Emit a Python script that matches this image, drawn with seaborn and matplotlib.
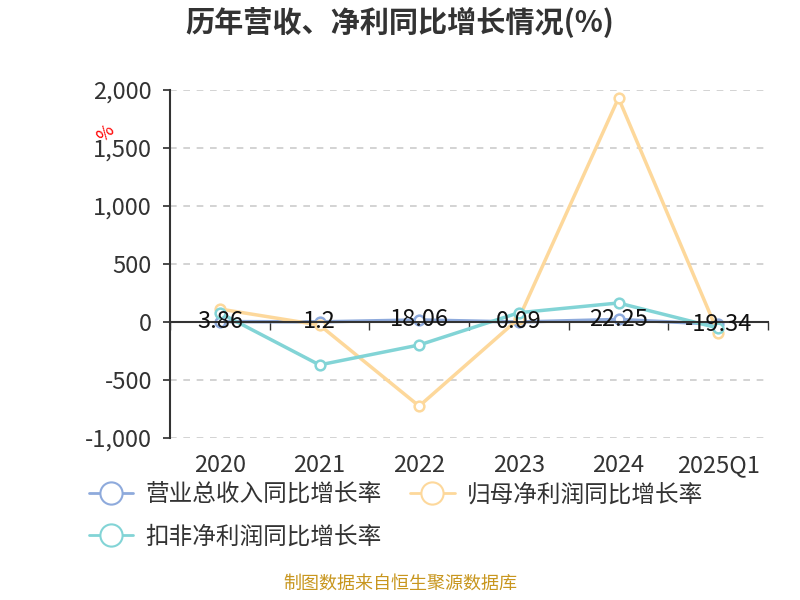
import matplotlib
matplotlib.use('Agg')
import pandas as pd
import matplotlib.pyplot as plt
import seaborn as sns
from matplotlib.lines import Line2D

years = ['2020', '2021', '2022', '2023', '2024', '2025Q1']
revenue = [3.86, 1.2, 18.06, 0.09, 22.25, -19.34]
net_profit = [112, -26, -725, 30, 1931, -95]
deducted = [78, -370, -198, 80, 164, -52]

names = ['营业总收入同比增长率', '归母净利润同比增长率', '扣非净利润同比增长率']
colors = ['#8eaadc', '#fdd89b', '#82d4d6']

sns.set_theme(style='white')
plt.rcParams['font.family'] = ['Noto Sans CJK SC', 'DejaVu Sans']

df = pd.DataFrame({
    'year': years * 3,
    'value': revenue + net_profit + deducted,
    'series': [names[0]] * 6 + [names[1]] * 6 + [names[2]] * 6,
})

fig = plt.figure(figsize=(8, 6), dpi=100)
ax = fig.add_axes([0.2125, 0.27, 0.7475, 0.58])

sns.lineplot(data=df, x='year', y='value', hue='series', hue_order=names,
             palette=colors, marker='o', markersize=7, linewidth=2.5,
             sort=False, legend=False, ax=ax)
for line, c in zip(ax.get_lines(), colors):
    line.set_markerfacecolor('white')
    line.set_markeredgecolor(c)
    line.set_markeredgewidth(1.8)

ax.set_xlim(-0.5, 5.5)
ax.set_ylim(-1000, 2000)
ax.set_yticks([-1000, -500, 0, 500, 1000, 1500, 2000])
ax.set_yticklabels(['-1,000', '-500', '0', '500', '1,000', '1,500', '2,000'])
ax.yaxis.grid(True, linestyle=(0, (4, 4)), color='#cccccc', linewidth=1.2)
ax.set_axisbelow(True)
for s in ['top', 'right']:
    ax.spines[s].set_visible(False)
ax.spines['left'].set_color('#333333')
ax.spines['left'].set_linewidth(1.5)
ax.spines['bottom'].set_position(('data', 0))
ax.spines['bottom'].set_color('#333333')
ax.spines['bottom'].set_linewidth(1.5)
ax.tick_params(axis='y', left=True, length=5, color='#333333', labelsize=17,
               labelcolor='#333333', pad=8)
ax.set_xticks(range(6))
ax.set_xticklabels([])
ax.set_xticks([i - 0.5 for i in range(7)], minor=True)
ax.tick_params(axis='x', which='minor', bottom=True, length=6, color='#333333')
ax.tick_params(axis='x', which='major', bottom=False)
ax.set_xlabel('')
ax.set_ylabel('')
for i, y in enumerate(years):
    ax.text(i, -1140, y, ha='center', va='top', fontsize=17, color='#333333')

for i, v in enumerate(revenue):
    ax.text(i, v, f'{v:g}', ha='center', va='center', fontsize=17, color='#111111')

fig.text(0.132, 0.778, '%', color='red', fontsize=13, rotation=45, ha='center', va='center')

fig.text(0.5, 0.962, '历年营收、净利同比增长情况(%)', ha='center', va='center',
         fontsize=21, fontweight='bold', color='#333333')

handles = [Line2D([0], [0], color=c, linewidth=2, marker='o', markersize=16,
                  markerfacecolor='white', markeredgewidth=1.5) for c in colors]
order = [0, 2, 1]
fig.legend([handles[i] for i in order], [names[i] for i in order],
           loc='upper left', bbox_to_anchor=(0.09, 0.222),
           bbox_transform=fig.transFigure, ncol=2, frameon=False, fontsize=17,
           handlelength=1.9, handletextpad=0.5, columnspacing=1.2,
           labelspacing=0.8, labelcolor='#333333', borderpad=0.2)

fig.text(0.5, 0.012, '制图数据来自恒生聚源数据库', ha='center', va='bottom',
         fontsize=13, color='#c8961e')

plt.savefig('out.png', dpi=100)
